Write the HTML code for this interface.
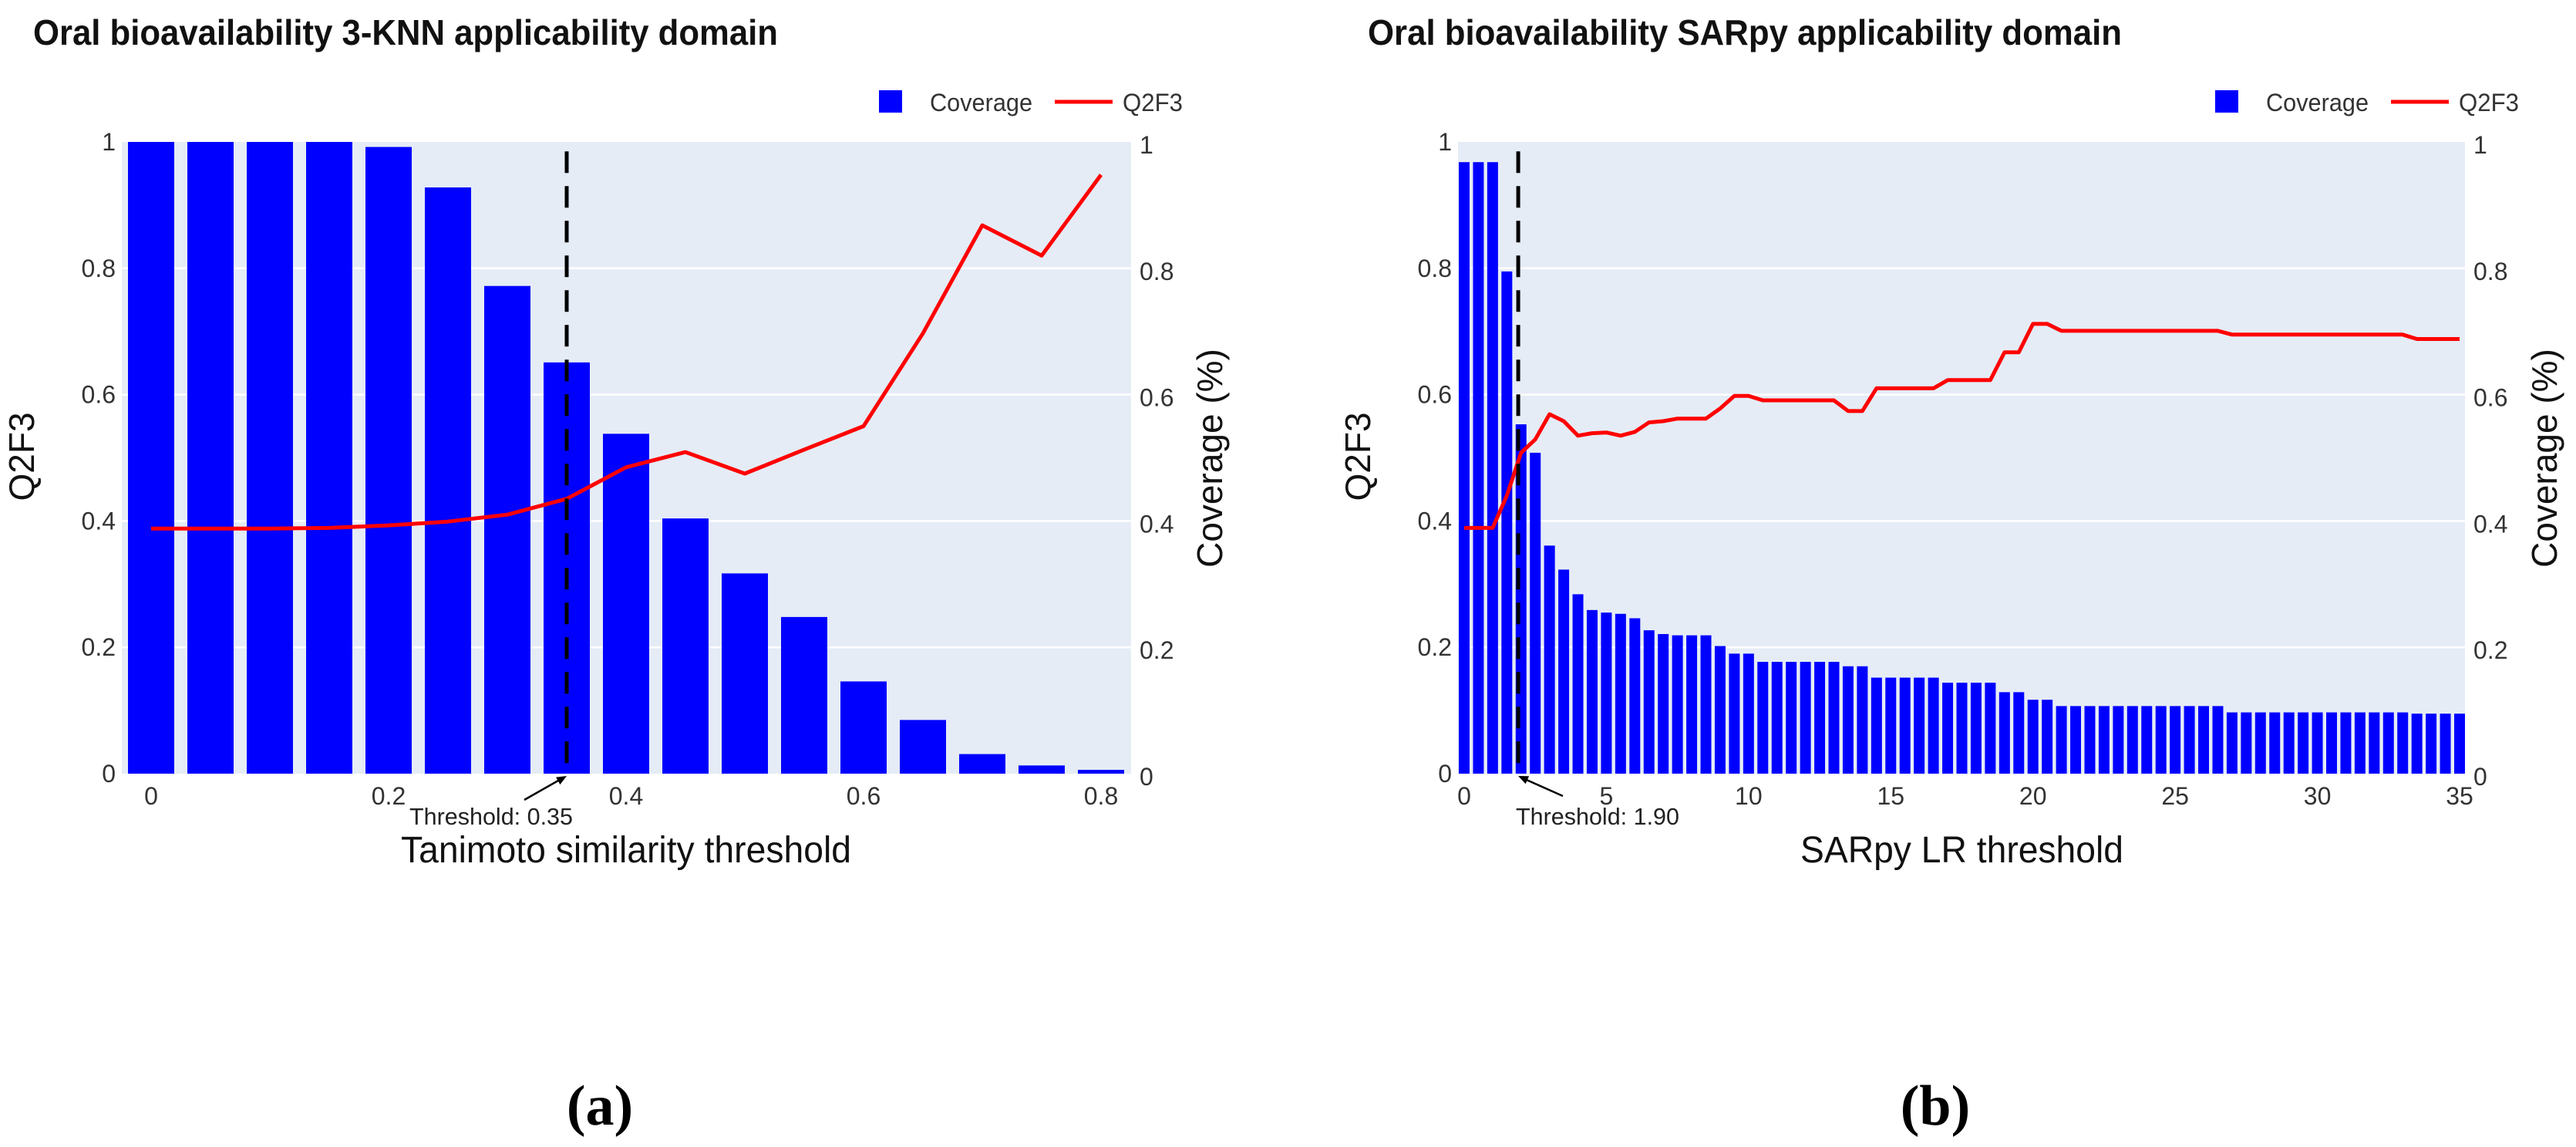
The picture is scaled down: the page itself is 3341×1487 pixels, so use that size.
<!DOCTYPE html>
<html><head><meta charset="utf-8">
<style>
html,body{margin:0;padding:0;background:#fff;}
svg{display:block;}
text{font-family:"Liberation Sans",Arial,sans-serif;fill:#333;}
</style></head>
<body>
<svg id="fig" width="3341" height="1487" viewBox="0 0 3341 1487" xmlns="http://www.w3.org/2000/svg">
<g id="chartA"></g>
<g id="chartB"></g>
<text x="778" y="1458" text-anchor="middle" style="font-family:'Liberation Serif',serif;font-weight:bold;font-size:74px;fill:#000">(a)</text>
<text x="2510" y="1458" text-anchor="middle" style="font-family:'Liberation Serif',serif;font-weight:bold;font-size:74px;fill:#000">(b)</text>
</svg>
<script>
// Chart A data
const catsA = [0,0.05,0.1,0.15,0.2,0.25,0.3,0.35,0.4,0.45,0.5,0.55,0.6,0.65,0.7,0.75,0.8];
const coverageA = [1,1,1,1,0.992,0.928,0.772,0.651,0.538,0.404,0.317,0.248,0.146,0.085,0.031,0.013,0.006];
const q2f3A = [0.388,0.388,0.388,0.389,0.393,0.399,0.41,0.435,0.485,0.509,0.475,0.513,0.55,0.697,0.868,0.82,0.948];
const xTicksA = [0,0.2,0.4,0.6,0.8];
const xTickLabelsA = ["0","0.2","0.4","0.6","0.8"];
const thresholdA = 0.35;
// Chart B data
const catsB = [0,0.5,1,1.5,2,2.5,3,3.5,4,4.5,5,5.5,6,6.5,7,7.5,8,8.5,9,9.5,10,10.5,11,11.5,12,12.5,13,13.5,14,14.5,15,15.5,16,16.5,17,17.5,18,18.5,19,19.5,20,20.5,21,21.5,22,22.5,23,23.5,24,24.5,25,25.5,26,26.5,27,27.5,28,28.5,29,29.5,30,30.5,31,31.5,32,32.5,33,33.5,34,34.5,35];
const coverageB = [0.968,0.968,0.968,0.795,0.553,0.508,0.361,0.323,0.284,0.259,0.255,0.253,0.246,0.227,0.221,0.219,0.219,0.219,0.202,0.19,0.19,0.177,0.177,0.177,0.177,0.177,0.177,0.17,0.17,0.152,0.152,0.152,0.152,0.152,0.144,0.144,0.144,0.144,0.129,0.129,0.117,0.117,0.107,0.107,0.107,0.107,0.107,0.107,0.107,0.107,0.107,0.107,0.107,0.107,0.097,0.097,0.097,0.097,0.097,0.097,0.097,0.097,0.097,0.097,0.097,0.097,0.097,0.095,0.095,0.095,0.095];
const q2f3B = [0.389,0.389,0.389,0.44,0.508,0.529,0.569,0.558,0.535,0.539,0.54,0.535,0.541,0.556,0.558,0.562,0.562,0.562,0.578,0.598,0.598,0.591,0.591,0.591,0.591,0.591,0.591,0.574,0.574,0.61,0.61,0.61,0.61,0.61,0.623,0.623,0.623,0.623,0.667,0.667,0.712,0.712,0.701,0.701,0.701,0.701,0.701,0.701,0.701,0.701,0.701,0.701,0.701,0.701,0.695,0.695,0.695,0.695,0.695,0.695,0.695,0.695,0.695,0.695,0.695,0.695,0.695,0.688,0.688,0.688,0.688];
const xTicksB = [0,5,10,15,20,25,30,35];
const xTickLabelsB = ["0","5","10","15","20","25","30","35"];
const thresholdB = 1.9;
const yTicks = [0,0.2,0.4,0.6,0.8,1];
const yTickLabels = ["0","0.2","0.4","0.6","0.8","1"];

const NS = "http://www.w3.org/2000/svg";
function mk(parent, tag, attrs, txt){
  const e = document.createElementNS(NS, tag);
  for (const k in attrs) e.setAttribute(k, attrs[k]);
  if (txt !== undefined) e.textContent = txt;
  parent.appendChild(e);
  return e;
}

function draw(g, cfg){
  const L=cfg.left, R=cfg.right, T=184, B=1003;
  const sx = v => cfg.x0px + (v - cfg.xmin0) * cfg.pxPerUnit;
  const sy = v => B - v*(B-T);
  let e;
  e = mk(g,'rect',{x:L,y:T,width:R-L,height:B-T,fill:'#e5ecf6'});
  
  
  yTicks.forEach((t,i)=>{
    if (t>0 && t<1){
      e = mk(g,'line',{x1:L,x2:R,y1:sy(t),y2:sy(t),stroke:'#fff','stroke-width':2.5});
      
      
    }
    e = mk(g,'text',{x:L-8,y:sy(t)+11,'text-anchor':'end','font-size':32},yTickLabels[i]);
    
    
    e = mk(g,'text',{x:R+11,y:sy(t)+15,'text-anchor':'start','font-size':32},yTickLabels[i]);
    
    
  });
  cfg.cats.forEach((c,i)=>{
    e = mk(g,'rect',{x:sx(c)-cfg.barW/2,y:sy(cfg.cov[i]),width:cfg.barW,height:B-sy(cfg.cov[i]),fill:'#0000ff'});
    
    
  });
  const pts = cfg.cats.map((c,i)=>sx(c).toFixed(1)+','+sy(cfg.q[i]).toFixed(1)).join(' ');
  e = mk(g,'polyline',{points:pts,fill:'none',stroke:'#ff0000','stroke-width':5,'stroke-linejoin':'round'});
  
  
  const tx = sx(cfg.th);
  e = mk(g,'line',{x1:tx,x2:tx,y1:sy(0.985),y2:B,stroke:'#000','stroke-width':5,'stroke-dasharray':'28,17'});
  
  
  cfg.xt.forEach((t,i)=>{
    e = mk(g,'text',{x:sx(t),y:1043,'text-anchor':'middle','font-size':32},cfg.xtl[i]);
    
    
  });
  e = mk(g,'line',{x1:cfg.arrowTail[0],y1:cfg.arrowTail[1],x2:tx+(cfg.arrowDir*4),y2:B+5,stroke:'#000','stroke-width':2.5});
  
  
  const ang = Math.atan2(B+3-cfg.arrowTail[1], tx-cfg.arrowTail[0]);
  const hx=tx, hy=B+3, s=14;
  const p1=[hx-s*Math.cos(ang-0.4),hy-s*Math.sin(ang-0.4)], p2=[hx-s*Math.cos(ang+0.4),hy-s*Math.sin(ang+0.4)];
  e = mk(g,'polygon',{points:`${hx},${hy} ${p1[0]},${p1[1]} ${p2[0]},${p2[1]}`,fill:'#000'});
  
  
  e = mk(g,'text',{x:cfg.thTextX,y:1069,'text-anchor':'start','font-size':31,textLength:212,lengthAdjust:'spacingAndGlyphs',style:'fill:#222'},cfg.thText);
  
  
  e = mk(g,'text',{x:cfg.titleX,y:58,'font-size':46,'font-weight':'bold',textLength:cfg.titleW,lengthAdjust:'spacingAndGlyphs',style:'fill:#111'},cfg.title);
  
  
  e = mk(g,'text',{x:cfg.xTitleX,y:1118,'font-size':48,textLength:cfg.xTitleW,lengthAdjust:'spacingAndGlyphs',style:'fill:#111'},cfg.xTitle);
  
  
  e = mk(g,'text',{x:0,y:0,'font-size':46,'text-anchor':'middle',transform:`translate(${cfg.yTitleX},592) rotate(-90)`,style:'fill:#111'},'Q2F3');
  
  
  e = mk(g,'text',{x:0,y:0,'font-size':46,'text-anchor':'middle',transform:`translate(${cfg.y2TitleX},594) rotate(-90)`,style:'fill:#111'},'Coverage (%)');
  
  
  const lx = cfg.legX;
  e = mk(g,'rect',{x:lx,y:117,width:30,height:29,fill:'#0000ff'});
  
  
  e = mk(g,'text',{x:lx+66,y:144,'font-size':32,textLength:133,lengthAdjust:'spacingAndGlyphs'},'Coverage');
  
  
  e = mk(g,'line',{x1:lx+228,x2:lx+303,y1:132,y2:132,stroke:'#ff0000','stroke-width':5});
  
  
  e = mk(g,'text',{x:lx+316,y:144,'font-size':32,textLength:78,lengthAdjust:'spacingAndGlyphs'},'Q2F3');
  
  
}

draw(document.getElementById('chartA'),{
  left:158,right:1467,x0px:196,xmin0:0,pxPerUnit:77/0.05,barW:60,
  cats:catsA,cov:coverageA,q:q2f3A,xt:xTicksA,xtl:xTickLabelsA,th:thresholdA,
  arrowTail:[680,1037],arrowDir:-1,thTextX:531,thText:'Threshold: 0.35',
  title:'Oral bioavailability 3-KNN applicability domain',titleX:43,titleW:966,
  xTitle:'Tanimoto similarity threshold',xTitleX:520,xTitleW:584,
  yTitleX:44,y2TitleX:1585,legX:1140
});
draw(document.getElementById('chartB'),{
  left:1891,right:3197,x0px:1899,xmin0:0,pxPerUnit:1291/35,barW:14,
  cats:catsB,cov:coverageB,q:q2f3B,xt:xTicksB,xtl:xTickLabelsB,th:thresholdB,
  arrowTail:[2027,1032],arrowDir:1,thTextX:1966,thText:'Threshold: 1.90',
  title:'Oral bioavailability SARpy applicability domain',titleX:1774,titleW:978,
  xTitle:'SARpy LR threshold',xTitleX:2335,xTitleW:419,
  yTitleX:1777,y2TitleX:3316,legX:2873
});
</script>
</body></html>
